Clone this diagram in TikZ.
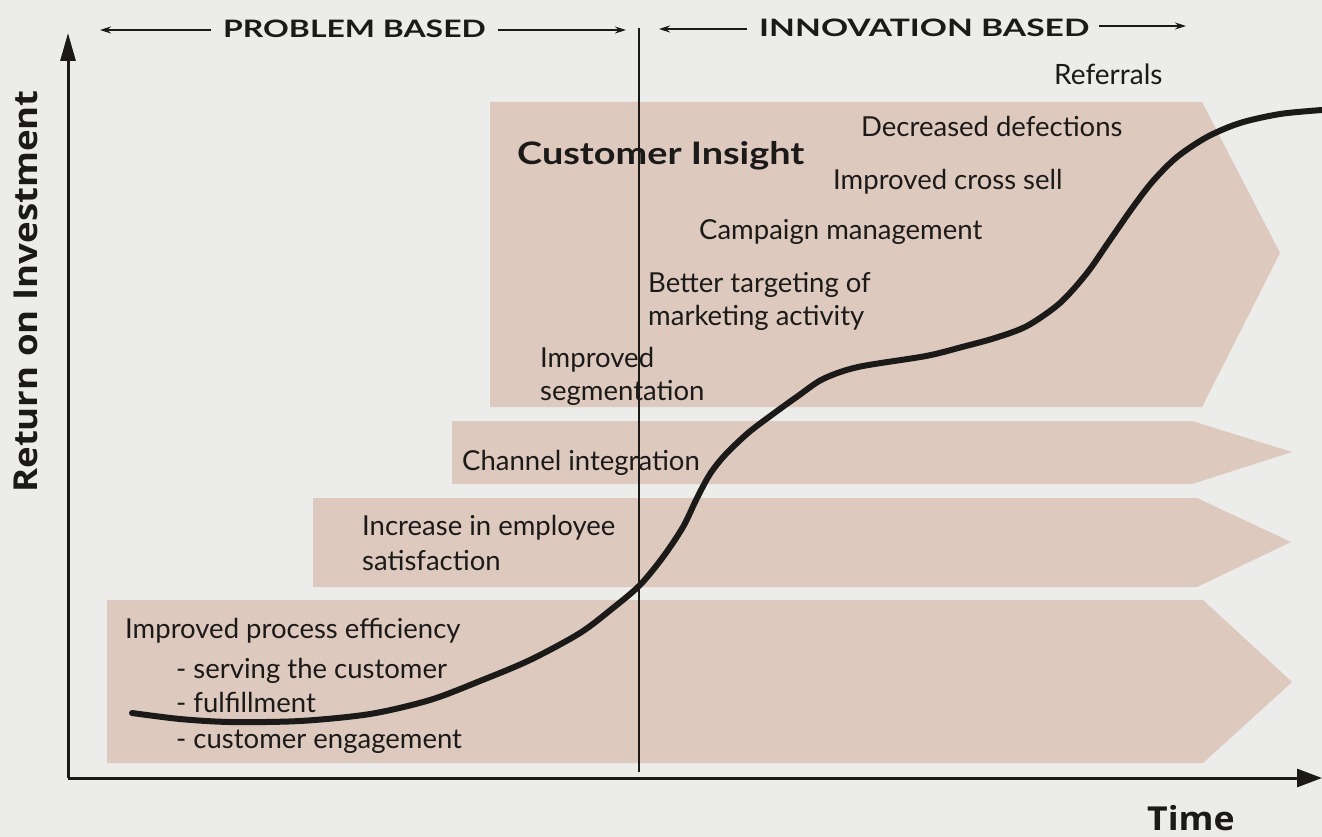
\documentclass[tikz,border=0pt]{standalone}
\usepackage{graphicx}
\usepackage{fontspec}
\setmainfont{Lato}
\newfontfamily\axisfont{Open Sans}
\usetikzlibrary{arrows.meta}
\definecolor{bgc}{HTML}{ECECEA}
\definecolor{bandc}{HTML}{DDC9BD}
\definecolor{ink}{HTML}{1C1A19}
\tikzset{
  band/.style={fill=bandc, draw=none},
  item/.style={anchor=base west, inner sep=0pt, text=ink, font=\fontsize{27.5}{33}\selectfont},
  head/.style={anchor=base west, inner sep=0pt, text=ink, font=\bfseries\fontsize{24}{28}\selectfont},
  axislabel/.style={anchor=base west, inner sep=0pt, text=ink, font=\axisfont\bfseries\fontsize{33}{38}\selectfont},
  axisline/.style={draw=ink, line width=3pt},
  thinarrow/.style={draw=ink, line width=1.3pt, -{Stealth[length=11pt,width=7pt]}},
  roicurve/.style={draw=ink, line width=6pt, line cap=round}
}
\begin{document}
\begin{tikzpicture}[x=1pt,y=-1pt]
\fill[bgc] (0,0) rectangle (1322,837);
\useasboundingbox (0,0) rectangle (1322,837);

% bands
\fill[band] (107,600) -- (1203,600) -- (1292,682) -- (1203,763) -- (107,763) -- cycle;
\fill[band] (313,498) -- (1197,498) -- (1291,542) -- (1197,587) -- (313,587) -- cycle;
\fill[band] (452,421) -- (1192,421) -- (1292,452) -- (1192,484) -- (452,484) -- cycle;
\fill[band] (490,102) -- (1202,102) -- (1280,253) -- (1202,407) -- (490,407) -- cycle;

% divider
\coordinate (divtop) at (639,28);
\coordinate (divbot) at (639,772);
\draw[draw=ink, line width=1.3pt] (divtop) -- (divbot);

% axes
\coordinate (origin) at (68,778);
\coordinate (ytip) at (68,33);
\coordinate (xtip) at (1322,778);
\draw[axisline, -{Triangle[length=28pt,width=15pt]}] (origin) -- (ytip);
\draw[axisline, -{Triangle[length=25pt,width=18pt]}] (origin) -- (xtip);

% top headings
\node[head] (pb) at (223,38) {\scalebox{1.33}[1]{PROBLEM BASED}};
\node[head] (ib) at (759,37) {\scalebox{1.40}[1]{INNOVATION BASED}};
\coordinate (pbl) at (100,30);
\coordinate (pbr) at (626,30);
\coordinate (ibl) at (659,29);
\coordinate (ibr) at (1186,26);
\draw[thinarrow] ([xshift=-12pt]pb.west |- pbl) -- (pbl);
\draw[thinarrow] ([xshift=12pt]pb.east |- pbr) -- (pbr);
\draw[thinarrow] ([xshift=-12pt]ib.west |- ibl) -- (ibl);
\draw[thinarrow] ([xshift=9pt]ib.east |- ibr) -- (ibr);

% axis labels
\node[axislabel, rotate=90] (roi) at (37,493) {\scalebox{1.11}[1]{Return on Investment}};
\node[axislabel] (time) at (1147,830) {\scalebox{1.08}[1]{Time}};

% texts
\node[item, font=\fontsize{28}{33}\selectfont] (ref) at (1054,85) {Referrals};
\node[head, font=\bfseries\fontsize{31}{36}\selectfont] (ci) at (517,165) {\scalebox{1.22}[1]{Customer Insight}};
\node[item] (dd) at (861,137) {Decreased defections};
\node[item] (cs) at (833,190) {Improved cross sell};
\node[item] (cm) at (699,240) {Campaign management};
\node[item] (bt1) at (648,292) {Better targeting of};
\node[item] (bt2) at (648,325) {marketing activity};
\node[item] (is1) at (540,367) {Improved};
\node[item] (is2) at (540,400) {segmentation};
\node[item] (ch) at (462,470) {Channel integration};
\node[item] (ie1) at (362,535) {Increase in employee};
\node[item] (ie2) at (362,570) {satisfaction};
\node[item] (pe) at (125,638) {Improved process efficiency};
\node[item] (pe1) at (176,678) {- serving the customer};
\node[item] (pe2) at (176,712) {- fulfillment};
\node[item] (pe3) at (176,748) {- customer engagement};

% ROI curve
\draw[roicurve] plot[smooth, tension=0.5] coordinates {
(132,713) (180,719) (230,722) (300,721) (370,714) (430,700) (480,681)
(530,660) (580,633) (613,608) (640,585) (663,557) (683,527) (697,498)
(710,474) (725,455) (748,433) (773,414) (798,396) (823,379) (858,367)
(926,356) (962,347) (995,338) (1027,326) (1060,303) (1087,273)
(1110,240) (1133,207) (1153,181) (1177,157) (1207,137) (1240,123)
(1280,114) (1322,110)};
\end{tikzpicture}
\end{document}
